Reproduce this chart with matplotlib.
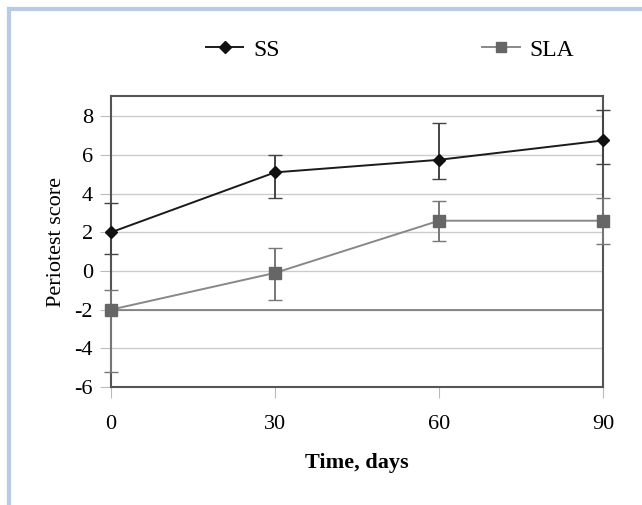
import matplotlib.pyplot as plt
from matplotlib.lines import Line2D

days = [0, 30, 60, 90]
ss = [2.0, 5.1, 5.75, 6.75]
ss_lo = [0.9, 3.8, 4.75, 5.55]
ss_hi = [3.5, 6.0, 7.65, 8.35]
sla = [-2.0, -0.1, 2.6, 2.6]
sla_lo = [-5.2, -1.5, 1.55, 1.4]
sla_hi = [-1.0, 1.2, 3.6, 3.75]

plt.rcParams['font.family'] = ['Liberation Serif', 'DejaVu Serif']
plt.rcParams['axes.unicode_minus'] = False

fig = plt.figure(figsize=(6.42, 5.05), dpi=100)
ax = fig.add_axes([111 / 642, 1 - 387 / 505, (603 - 111) / 642, (387 - 96) / 505])

# light blue frame on top and left
fig.add_artist(Line2D([9 / 642, 1], [1 - 9 / 505, 1 - 9 / 505], color='#b9cbe3', lw=3))
fig.add_artist(Line2D([9 / 642, 9 / 642], [0, 1 - 9 / 505], color='#b9cbe3', lw=3))

ax.set_ylim(-6, 9.05)
ax.set_xlim(0, 90)
ax.set_yticks(range(-6, 9, 2))
ax.set_xticks(days)
ax.yaxis.grid(True, color='#cccccc', lw=1)
ax.set_axisbelow(True)
ax.axhline(-2, color='#777777', lw=1.2, zorder=1)
for s in ax.spines.values():
    s.set_color('#555555')
    s.set_linewidth(1.5)
ax.tick_params(length=8, color='#bbbbbb', labelsize=16, pad=5)
ax.tick_params(axis='x', pad=12)

ss_err = [[m - l for m, l in zip(ss, ss_lo)], [h - m for m, h in zip(ss, ss_hi)]]
sla_err = [[m - l for m, l in zip(sla, sla_lo)], [h - m for m, h in zip(sla, sla_hi)]]

ax.errorbar(days, sla, yerr=sla_err, color='#888888', ecolor='#777777', elinewidth=1.4,
            capsize=5, marker='s', ms=8, mfc='#666666', mec='#666666', lw=1.4,
            zorder=3, clip_on=False)
ax.errorbar(days, ss, yerr=ss_err, color='#1a1a1a', ecolor='#444444', elinewidth=1.4,
            capsize=5, marker='D', ms=6, mfc='#111111', mec='#111111', lw=1.4,
            zorder=4, clip_on=False)

ax.set_ylabel('Periotest score', fontsize=16, labelpad=6)
ax.set_xlabel('Time, days', fontsize=16, fontweight='bold', labelpad=14)

handles = [Line2D([], [], color='#1a1a1a', lw=1.4, marker='D', ms=6, mfc='#111111', mec='#111111'),
           Line2D([], [], color='#888888', lw=1.4, marker='s', ms=7, mfc='#666666', mec='#666666')]
fig.legend(handles, ['SS', 'SLA'], ncol=2, loc='center', bbox_to_anchor=(390 / 642, 1 - 50 / 505),
           frameon=False, prop={'family': 'Liberation Serif', 'size': 17},
           handlelength=1.6, columnspacing=8.6, handletextpad=0.4)

fig.savefig('out.png', dpi=100)
